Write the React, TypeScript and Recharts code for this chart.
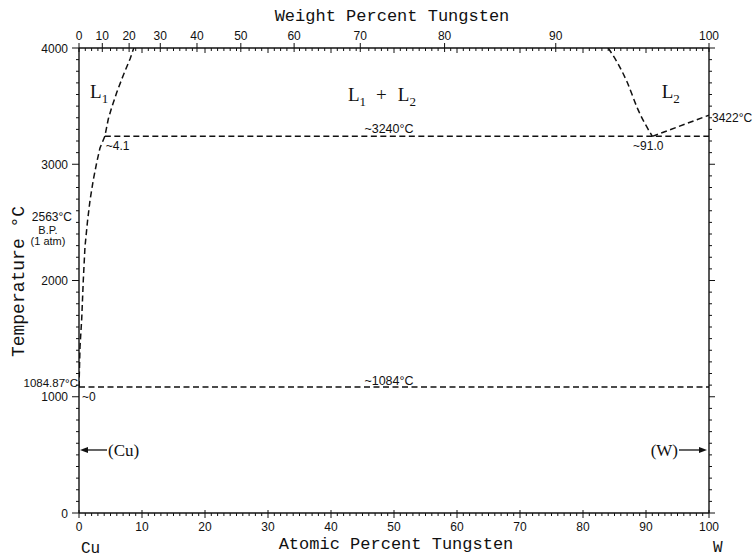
import React from 'react';
import { ComposedChart, Line, XAxis, YAxis, ReferenceDot } from 'recharts';

// ---- data (x = atomic percent W, t = temperature °C) ----
const liquidusCuSide = [
  { a: 0, t: 1084.87 }, { a: 0.16, t: 1430 }, { a: 0.43, t: 1670 }, { a: 0.68, t: 2000 },
  { a: 0.95, t: 2290 }, { a: 1.35, t: 2510 }, { a: 1.75, t: 2690 }, { a: 2.27, t: 2866 },
  { a: 2.8, t: 3011 }, { a: 3.33, t: 3140 }, { a: 4.1, t: 3240 }, { a: 4.65, t: 3389 },
  { a: 5.2, t: 3490 }, { a: 6.0, t: 3619 }, { a: 7.0, t: 3762 }, { a: 8.1, t: 3905 },
  { a: 8.7, t: 4000 },
];
const miscibilityWSide = [
  { a: 84.0, t: 4000 }, { a: 85.5, t: 3870 }, { a: 87.0, t: 3707 }, { a: 88.7, t: 3474 },
  { a: 91.0, t: 3240 },
];
const liquidusWSide = [{ a: 91.0, t: 3240 }, { a: 100, t: 3422 }];
const monotecticLine = [{ a: 4.1, t: 3240 }, { a: 100, t: 3240 }];
const eutecticLine = [{ a: 0, t: 1084.87 }, { a: 100, t: 1084.87 }];

const atomicLabels = [0, 10, 20, 30, 40, 50, 60, 70, 80, 90, 100];
const weightLabels = [0, 10, 20, 30, 40, 50, 60, 70, 80, 90, 100];
const tempLabels = [0, 1000, 2000, 3000, 4000];

// ---- axis helpers ----
const W_MASS = 183.84;
const CU_MASS = 63.546;
const wtToAt = (w: number) =>
  w <= 0 ? 0 : w >= 100 ? 100 : (100 * (w / W_MASS)) / (w / W_MASS + (100 - w) / CU_MASS);

const range = (a: number, b: number, s: number) => {
  const r: number[] = [];
  for (let v = a; v <= b + 1e-9; v += s) r.push(Math.round(v * 1000) / 1000);
  return r;
};

const bottomTicks = range(0, 100, 1);
const leftTicks = range(0, 4000, 100);

type TopTick = { pos: number; kind: 'wt' | 'atMajor' | 'atMinor'; label?: string };
const wtPositions = weightLabels.map((w) => wtToAt(w));
const topTicks: TopTick[] = [
  ...weightLabels.map((w) => ({ pos: wtToAt(w), kind: 'wt' as const, label: String(w) })),
  ...range(1, 99, 1)
    .filter((a) => wtPositions.every((p) => Math.abs(p - a) >= 0.4))
    .map((a) => ({ pos: a, kind: (a % 10 === 0 ? 'atMajor' : 'atMinor') as 'atMajor' | 'atMinor' })),
];

const FONT_TICK = '"Liberation Sans", Arial, sans-serif';
const FONT_MONO = '"Liberation Mono", "Courier New", monospace';
const FONT_SERIF = '"Liberation Serif", "Times New Roman", serif';
const INK = '#111';

const BottomTick = (props: any) => {
  const { x, y, payload } = props;
  const v = Math.round(payload.value);
  const major = atomicLabels.includes(v);
  return (
    <g>
      <line x1={x} x2={x} y1={major ? y - 3 : y} y2={major ? y + 5 : y + 3} stroke={INK} strokeWidth={1} />
      {major && (
        <text x={x} y={y + 18} textAnchor="middle" fontSize={12} fontFamily={FONT_TICK} fill={INK}>
          {v}
        </text>
      )}
    </g>
  );
};

const TopTickShape = (props: any) => {
  const { x, y, payload } = props;
  const info = topTicks.find((t) => Math.abs(t.pos - payload.value) < 1e-6);
  if (!info) return <g />;
  if (info.kind === 'wt') {
    return (
      <g>
        <line x1={x} x2={x} y1={y - 5} y2={y + 4} stroke={INK} strokeWidth={1} />
        <text x={x} y={y - 8} textAnchor="middle" fontSize={12} fontFamily={FONT_TICK} fill={INK}>
          {info.label}
        </text>
      </g>
    );
  }
  return <line x1={x} x2={x} y1={y} y2={y + (info.kind === 'atMajor' ? 5 : 3)} stroke={INK} strokeWidth={1} />;
};

const LeftTick = (props: any) => {
  const { x, y, payload } = props;
  const v = Math.round(payload.value);
  const major = tempLabels.includes(v);
  return (
    <g>
      <line x1={major ? x - 7 : x - 3} x2={x} y1={y} y2={y} stroke={INK} strokeWidth={1} />
      {major && (
        <text x={x - 11} y={y + 4.5} textAnchor="end" fontSize={12} fontFamily={FONT_TICK} fill={INK}>
          {v}
        </text>
      )}
    </g>
  );
};

const RightTick = (props: any) => {
  const { x, y, payload } = props;
  const v = Math.round(payload.value);
  const major = tempLabels.includes(v);
  return <line x1={x} x2={x + (major ? 6 : 3)} y1={y} y2={y} stroke={INK} strokeWidth={1} />;
};

const note = (key: string, a: number, t: number, render: (x: number, y: number) => React.ReactNode) => (
  <ReferenceDot
    key={key}
    xAxisId="bottom"
    yAxisId="left"
    x={a}
    y={t}
    r={0}
    fill="none"
    stroke="none"
    ifOverflow="visible"
    label={(p: any) => {
      const vb = p.viewBox || {};
      return <g>{render(vb.x + (vb.width || 0) / 2, vb.y + (vb.height || 0) / 2)}</g>;
    }}
  />
);

const dashed = { stroke: INK, strokeWidth: 1.5, strokeDasharray: '6 3.5' };

const small = (x: number, y: number, s: string, anchor: 'start' | 'middle' | 'end' = 'start', size = 12) => (
  <text x={x} y={y} textAnchor={anchor} fontSize={size} fontFamily={FONT_TICK} fill={INK}>
    {s}
  </text>
);

const axisLineStyle = { stroke: INK, strokeWidth: 1.4 };

export default function App() {
  return (
    <div style={{ position: 'absolute', left: 0, top: 0, background: '#fff' }}>
      <ComposedChart width={754} height={560} margin={{ top: 47, right: 44, bottom: 46, left: 78 }}>
        <XAxis
          xAxisId="bottom"
          type="number"
          dataKey="a"
          domain={[0, 100]}
          ticks={bottomTicks}
          interval={0}
          height={1}
          tickSize={0}
          tickMargin={0}
          tickLine={false}
          tick={<BottomTick />}
          axisLine={axisLineStyle}
          allowDataOverflow
        />
        <XAxis
          xAxisId="top"
          orientation="top"
          type="number"
          dataKey="a"
          domain={[0, 100]}
          ticks={topTicks.map((t) => t.pos)}
          interval={0}
          height={1}
          tickSize={0}
          tickMargin={0}
          tickLine={false}
          tick={<TopTickShape />}
          axisLine={axisLineStyle}
          allowDataOverflow
        />
        <YAxis
          yAxisId="left"
          type="number"
          domain={[0, 4000]}
          ticks={leftTicks}
          interval={0}
          width={1}
          tickSize={0}
          tickMargin={0}
          tickLine={false}
          tick={<LeftTick />}
          axisLine={axisLineStyle}
          allowDataOverflow
        />
        <YAxis
          yAxisId="right"
          orientation="right"
          type="number"
          domain={[0, 4000]}
          ticks={leftTicks}
          interval={0}
          width={1}
          tickSize={0}
          tickMargin={0}
          tickLine={false}
          tick={<RightTick />}
          axisLine={axisLineStyle}
          allowDataOverflow
        />

        <Line xAxisId="bottom" yAxisId="left" data={liquidusCuSide} dataKey="t" type="linear" dot={false} activeDot={false} isAnimationActive={false} {...dashed} />
        <Line xAxisId="bottom" yAxisId="left" data={miscibilityWSide} dataKey="t" type="monotone" dot={false} activeDot={false} isAnimationActive={false} {...dashed} />
        <Line xAxisId="bottom" yAxisId="left" data={liquidusWSide} dataKey="t" type="linear" dot={false} activeDot={false} isAnimationActive={false} {...dashed} />
        <Line xAxisId="bottom" yAxisId="left" data={monotecticLine} dataKey="t" type="linear" dot={false} activeDot={false} isAnimationActive={false} {...dashed} />
        <Line xAxisId="bottom" yAxisId="left" data={eutecticLine} dataKey="t" type="linear" dot={false} activeDot={false} isAnimationActive={false} {...dashed} />

        {note('L1', 1.75, 3570, (x, y) => (
          <text x={x} y={y} fontFamily={FONT_SERIF} fontSize={19} fill={INK}>
            L<tspan dy={5} fontSize={13}>1</tspan>
          </text>
        ))}
        {note('L1L2', 42.7, 3544, (x, y) => (
          <text x={x} y={y} fontFamily={FONT_SERIF} fontSize={19} fill={INK}>
            L<tspan dy={5} fontSize={13}>1</tspan>
            <tspan dy={-5} dx={10}>+</tspan>
            <tspan dx={11}>L</tspan>
            <tspan dy={5} fontSize={13}>2</tspan>
          </text>
        ))}
        {note('L2', 92.5, 3570, (x, y) => (
          <text x={x} y={y} fontFamily={FONT_SERIF} fontSize={19} fill={INK}>
            L<tspan dy={5} fontSize={13}>2</tspan>
          </text>
        ))}
        {note('t3240', 49.2, 3240, (x, y) => small(x, y - 3, '~3240°C', 'middle', 12.5))}
        {note('c41', 4.1, 3240, (x, y) => small(x + 1, y + 14, '~4.1'))}
        {note('c910', 91.0, 3240, (x, y) => small(x - 4, y + 14, '~91.0', 'middle'))}
        {note('t3422', 100, 3422, (x, y) => small(x + 3, y + 7, '3422°C'))}
        {note('t2563', 0, 2563, (x, y) => (
          <g>
            {small(x - 7, y + 6, '2563°C', 'end')}
            {small(x - 31, y + 19, 'B.P.', 'middle', 11)}
            {small(x - 31, y + 30, '(1 atm)', 'middle', 11)}
          </g>
        ))}
        {note('t108487', 0, 1084.87, (x, y) => (
          <g>
            {small(x - 1, y + 0.5, '1084.87°C', 'end', 11.5)}
            {small(x + 3, y + 14, '~0')}
          </g>
        ))}
        {note('t1084', 49.2, 1084.87, (x, y) => small(x, y - 2, '~1084°C', 'middle', 12.5))}
        {note('cu', 0, 542, (x, y) => (
          <g>
            <line x1={x + 8} x2={x + 28} y1={y} y2={y} stroke={INK} strokeWidth={1.3} />
            <path d={`M ${x + 1} ${y} L ${x + 9} ${y - 3} L ${x + 9} ${y + 3} Z`} fill={INK} />
            <text x={x + 29} y={y + 6} fontFamily={FONT_SERIF} fontSize={17} fill={INK}>
              (Cu)
            </text>
          </g>
        ))}
        {note('w', 100, 542, (x, y) => (
          <g>
            <line x1={x - 30} x2={x - 9} y1={y} y2={y} stroke={INK} strokeWidth={1.3} />
            <path d={`M ${x - 2} ${y} L ${x - 10} ${y - 3} L ${x - 10} ${y + 3} Z`} fill={INK} />
            <text x={x - 31} y={y + 6} textAnchor="end" fontFamily={FONT_SERIF} fontSize={17} fill={INK}>
              (W)
            </text>
          </g>
        ))}
        {note('cuEl', 0, 0, (x, y) => (
          <text x={x + 2} y={y + 40} fontFamily={FONT_MONO} fontSize={16} fill={INK}>
            Cu
          </text>
        ))}
        {note('wEl', 100, 0, (x, y) => (
          <text x={x + 4} y={y + 39} fontFamily={FONT_MONO} fontSize={16} fill={INK}>
            W
          </text>
        ))}
        {note('xTitle', 50, 0, (x, y) => (
          <text x={x + 2} y={y + 36} textAnchor="middle" fontFamily={FONT_MONO} fontSize={17} fill={INK}>
            Atomic Percent Tungsten
          </text>
        ))}
        {note('topTitle', 50, 4000, (x, y) => (
          <text x={x - 2} y={y - 27} textAnchor="middle" fontFamily={FONT_MONO} fontSize={17} fill={INK}>
            Weight Percent Tungsten
          </text>
        ))}
        {note('yTitle', 0, 2000, (x, y) => (
          <text
            x={x - 60}
            y={y + 1}
            transform={`rotate(-90 ${x - 60} ${y + 1})`}
            textAnchor="middle"
            dominantBaseline="central"
            fontFamily={FONT_MONO}
            fontSize={18}
            fill={INK}
          >
            Temperature °C
          </text>
        ))}
      </ComposedChart>
    </div>
  );
}
